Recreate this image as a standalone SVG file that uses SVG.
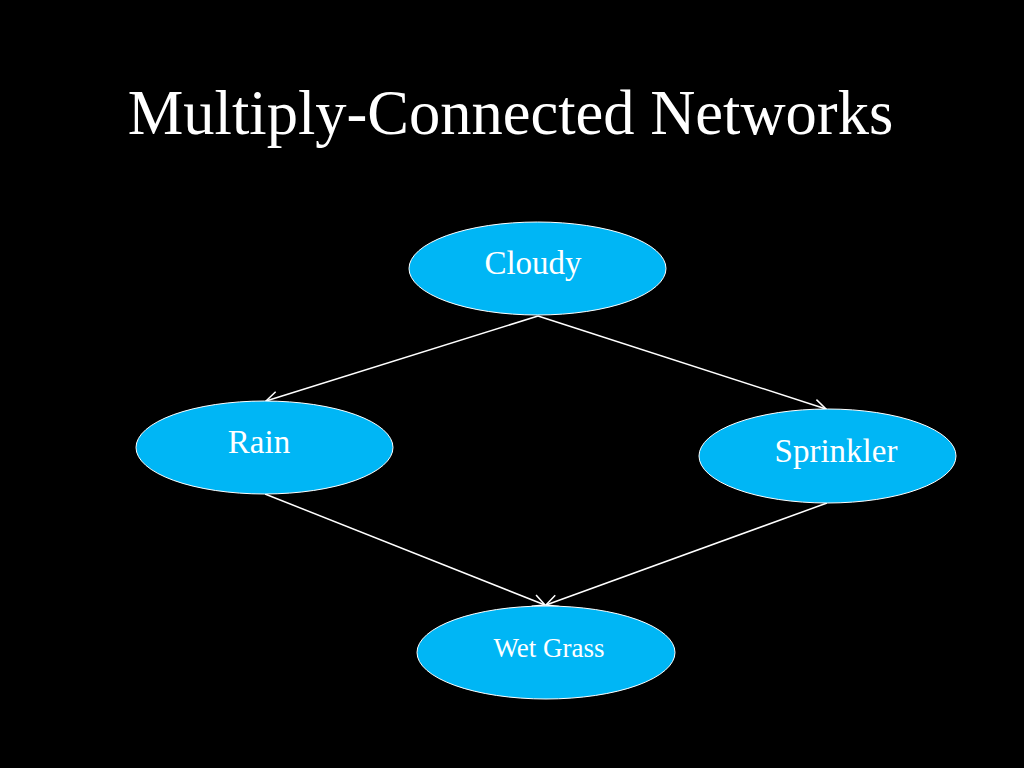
<svg xmlns="http://www.w3.org/2000/svg" width="1024" height="768" viewBox="0 0 1024 768">
<defs>
<style>
.node ellipse{fill:#00B6F5;stroke:#ffffff;stroke-width:1}
.lbl{font-family:"Liberation Serif","Times New Roman",serif;fill:#ffffff;text-anchor:middle}
.edge{stroke:#ffffff;stroke-width:1.5;fill:none;marker-end:url(#arr)}
</style>
<marker id="arr" viewBox="0 0 14 14" refX="13" refY="7" markerWidth="14" markerHeight="14" markerUnits="userSpaceOnUse" orient="auto">
<path d="M1,1 L13,7 L1,13" fill="none" stroke="#ffffff" stroke-width="1.5"/>
</marker>
</defs>
<rect width="1024" height="768" fill="#000000"/>
<text class="lbl" x="510.5" y="134" font-size="62.5">Multiply-Connected Networks</text>
<g id="connectors">
<line class="edge" x1="538" y1="316" x2="266" y2="401"/>
<line class="edge" x1="538" y1="316" x2="826" y2="409"/>
<line class="edge" x1="265" y1="494" x2="545" y2="605"/>
<line class="edge" x1="827" y1="503" x2="546" y2="605"/>
</g>
<g id="cloudy" class="node">
<ellipse cx="537.5" cy="268.5" rx="128.5" ry="46.5"/>
<text class="lbl" x="533" y="274" font-size="33">Cloudy</text>
</g>
<g id="rain" class="node">
<ellipse cx="264.5" cy="447.5" rx="128.5" ry="46.5"/>
<text class="lbl" x="259" y="453" font-size="33">Rain</text>
</g>
<g id="sprinkler" class="node">
<ellipse cx="827.5" cy="456" rx="128.5" ry="47"/>
<text class="lbl" x="836" y="462" font-size="33">Sprinkler</text>
</g>
<g id="wetgrass" class="node">
<ellipse cx="546" cy="652.5" rx="129" ry="46.5"/>
<text class="lbl" x="549" y="657" font-size="27">Wet Grass</text>
</g>
</svg>
